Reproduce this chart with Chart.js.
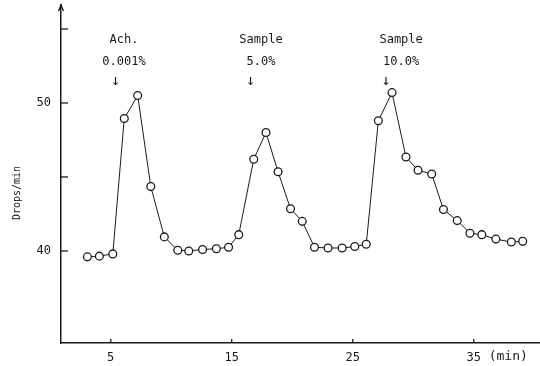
<!DOCTYPE html>
<html lang="en">
<head>
    <meta charset="UTF-8">
    <title>Drops/min chart</title>
    <script src="https://cdn.jsdelivr.net/npm/chart.js"></script>
    <style>
        html, body { margin: 0; padding: 0; background: #fff; overflow: hidden; }
        #dropsChart { display: block; }
    </style>
</head>
<body>
    <canvas id="dropsChart" width="540" height="366"></canvas>
    <script>
        // time (min), one per point
        var minutes = [3.07, 4.06, 5.17, 6.12, 7.23, 8.31, 9.43, 10.54, 11.45, 12.59, 13.73, 14.74,
            15.58, 16.82, 17.83, 18.83, 19.86, 20.83, 21.84, 22.96, 24.13, 25.17, 26.12,
            27.12, 28.25, 29.40, 30.40, 31.53, 32.50, 33.64, 34.69, 35.67, 36.83, 38.11, 39.05];
        // drops per minute
        var drops = [39.6, 39.65, 39.8, 48.95, 50.5, 44.35, 40.95, 40.05, 40.0, 40.1, 40.15, 40.25,
            41.1, 46.2, 48.0, 45.35, 42.85, 42.0, 40.25, 40.2, 40.2, 40.3, 40.45,
            48.8, 50.7, 46.35, 45.45, 45.2, 42.8, 42.05, 41.2, 41.1, 40.8, 40.6, 40.65];

        var xTicks = [5, 15, 25, 35];
        var yTicks = [40, 45, 50, 55];
        var yLabelled = [40, 50];

        // dosing marks: arrow time, text centre time, two text lines
        var doseAt = [5.4, 16.55, 27.75];
        var doseTextAt = [6.1, 17.42, 29.0];
        var doseLine1 = ["Ach.", "Sample", "Sample"];
        var doseLine2 = ["0.001%", "5.0%", "10.0%"];

        var ink = "#1a1a1a";
        var mono = "'DejaVu Sans Mono', 'Liberation Mono', monospace";

        var points = minutes.map(function (m, i) { return { x: m, y: drops[i] }; });

        // no extra room for edge labels, the plot fills the canvas like the scan
        function noPadding(scale) {
            scale.paddingTop = 0;
            scale.paddingBottom = 0;
            scale.paddingLeft = 0;
            scale.paddingRight = 0;
        }

        // draws inward ticks, the axis arrow and all the loose text
        var extras = {
            id: "extras",
            afterDraw: function (chart) {
                var ctx = chart.ctx;
                var xs = chart.scales.x, ys = chart.scales.y;
                var area = chart.chartArea;
                ctx.save();
                ctx.strokeStyle = ink;
                ctx.fillStyle = ink;
                ctx.lineWidth = 1.3;

                yTicks.forEach(function (v) {
                    var py = ys.getPixelForValue(v);
                    ctx.beginPath();
                    ctx.moveTo(area.left, py);
                    ctx.lineTo(area.left + 7, py);
                    ctx.stroke();
                });
                xTicks.forEach(function (v) {
                    var px = xs.getPixelForValue(v);
                    ctx.beginPath();
                    ctx.moveTo(px, area.bottom);
                    ctx.lineTo(px, area.bottom - 4);
                    ctx.stroke();
                });

                // little arrow head on top of the y axis
                ctx.beginPath();
                ctx.moveTo(area.left - 2.5, area.top + 6);
                ctx.lineTo(area.left, area.top);
                ctx.lineTo(area.left + 2.5, area.top + 6);
                ctx.stroke();

                ctx.font = "12px " + mono;
                ctx.textAlign = "center";
                ctx.textBaseline = "middle";
                doseAt.forEach(function (m, i) {
                    var tx = xs.getPixelForValue(doseTextAt[i]);
                    ctx.fillText(doseLine1[i], tx, 40);
                    ctx.fillText(doseLine2[i], tx, 62);
                });
                ctx.font = "15px " + mono;
                doseAt.forEach(function (m) {
                    ctx.fillText("\u2193", xs.getPixelForValue(m), 81);
                });

                ctx.font = "13px " + mono;
                ctx.textAlign = "left";
                ctx.fillText("(min)", xs.getPixelForValue(35) + 15, 357);

                // y axis title
                ctx.font = "10px " + mono;
                ctx.translate(17, 193);
                ctx.rotate(-Math.PI / 2);
                ctx.textAlign = "center";
                ctx.fillText("Drops/min", 0, 0);
                ctx.restore();
            }
        };

        new Chart(document.getElementById("dropsChart").getContext("2d"), {
            type: "line",
            data: {
                datasets: [{
                    data: points,
                    borderColor: ink,
                    borderWidth: 1,
                    tension: 0,
                    pointRadius: 3.9,
                    pointBorderWidth: 1.3,
                    pointBackgroundColor: "#fff",
                    pointBorderColor: ink
                }]
            },
            options: {
                responsive: false,
                animation: false,
                layout: { autoPadding: false, padding: { top: 5, right: 0, left: 0, bottom: 0 } },
                plugins: { legend: { display: false }, tooltip: { enabled: false } },
                scales: {
                    x: {
                        type: "linear",
                        min: 0.89,
                        max: 40.48,
                        afterBuildTicks: function (scale) {
                            scale.ticks = xTicks.map(function (v) { return { value: v }; });
                        },
                        afterFit: function (scale) {
                            scale.height = 23;
                            noPadding(scale);
                        },
                        grid: { display: false, drawTicks: false },
                        border: { display: true, color: ink, width: 1.5 },
                        ticks: {
                            color: ink,
                            padding: 8,
                            maxRotation: 0,
                            font: { family: mono, size: 12 }
                        }
                    },
                    y: {
                        min: 33.78,
                        max: 56.62,
                        afterBuildTicks: function (scale) {
                            scale.ticks = yTicks.map(function (v) { return { value: v }; });
                        },
                        afterFit: function (scale) {
                            scale.width = 61;
                            noPadding(scale);
                        },
                        grid: { display: false, drawTicks: false },
                        border: { display: true, color: ink, width: 1.5 },
                        ticks: {
                            color: ink,
                            padding: 10,
                            font: { family: mono, size: 12 },
                            callback: function (v) {
                                return yLabelled.indexOf(v) >= 0 ? String(v) : "";
                            }
                        }
                    }
                }
            },
            plugins: [extras]
        });
    </script>
</body>
</html>
